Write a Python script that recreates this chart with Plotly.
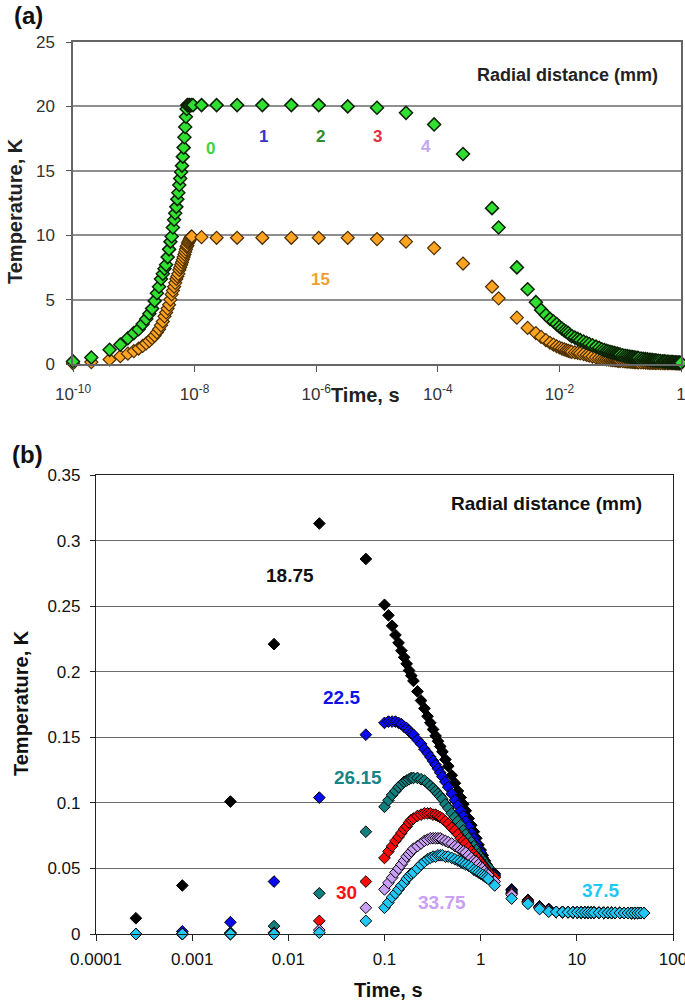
import plotly.graph_objects as go

W, H = 685, 1003

# ---------------- Panel (a) data ----------------
# rising phase (times in ns)
a_rise_t_ns = [0.1, 0.2, 0.4, 0.6, 0.8, 1.0, 1.2, 1.4, 1.6, 1.8, 2.0, 2.2, 2.4, 2.6, 2.8, 3.0,
               3.2, 3.4, 3.6, 3.8, 4.0, 4.2, 4.4, 4.6, 4.8, 5.0, 5.2, 5.4, 5.6, 5.8, 6.0, 6.2,
               6.4, 6.6, 6.8, 7.0, 7.2, 7.4, 7.6]
a_green_rise = [0.2, 0.5, 1.1, 1.5, 2.0, 2.4, 2.7, 3.1, 3.5, 3.9, 4.3, 4.9, 5.5, 6.0, 6.6, 7.0,
                7.4, 7.7, 8.3, 8.9, 9.5, 9.9, 10.6, 11.2, 11.7, 12.2, 12.8, 13.3, 13.9, 14.4, 14.9, 15.4,
                16.1, 16.8, 17.6, 18.4, 19.2, 19.8, 20.1]
a_orange_rise_t_ns = [0.1, 0.2, 0.4, 0.6, 0.8, 1.0, 1.2, 1.4, 1.6, 1.8, 2.0, 2.2, 2.4, 2.6, 2.8, 3.0,
                      3.2, 3.4, 3.6, 3.8, 4.0, 4.2, 4.4, 4.6, 4.8, 5.0, 5.2, 5.4, 5.6, 5.8, 6.0, 6.2,
                      6.4, 6.6, 6.8, 7.0, 7.2, 7.4, 7.6, 7.8, 8.0, 8.2, 8.4, 8.6, 8.8, 9.0]
a_orange_rise = [0.05, 0.15, 0.35, 0.6, 0.8, 1.0, 1.2, 1.4, 1.6, 1.8, 2.0, 2.2, 2.45, 2.7, 3.0, 3.3,
                 3.7, 4.0, 4.3, 4.6, 5.0, 5.4, 5.7, 6.0, 6.3, 6.6, 6.8, 7.0, 7.3, 7.5, 7.7, 7.9,
                 8.1, 8.3, 8.5, 8.7, 8.9, 9.1, 9.2, 9.4, 9.5, 9.6, 9.7, 9.8, 9.9, 9.9]

# plateau / early decay (times in s)
a_green_mid_t = [7.8e-9, 8.2e-9, 8.8e-9, 9.4e-9, 1.3e-8, 2.3e-8, 5e-8, 1.3e-7, 3.9e-7, 1.1e-6,
                 3.3e-6, 1e-5, 3e-5, 8.7e-5, 2.6e-4, 7.8e-4, 1e-3, 2e-3, 3e-3, 4.1e-3]
a_green_mid = [20.1, 20.1, 20.1, 20.1, 20.1, 20.1, 20.1, 20.1, 20.1, 20.1,
               20.0, 19.9, 19.5, 18.6, 16.3, 12.1, 10.6, 7.5, 5.8, 4.8]
a_orange_mid_t = [1.3e-8, 2.3e-8, 5e-8, 1.3e-7, 3.9e-7, 1.1e-6, 3.3e-6, 1e-5, 3e-5, 8.7e-5,
                  2.6e-4, 7.8e-4, 1e-3, 2e-3, 3e-3, 4.1e-3]
a_orange_mid = [9.85, 9.8, 9.8, 9.8, 9.8, 9.8, 9.8, 9.7, 9.5, 9.0,
                7.8, 6.0, 5.1, 3.6, 2.8, 2.4]

# late dense decay (times in s)
a_tail_t = [0.005, 0.006, 0.007, 0.008, 0.009, 0.010, 0.011, 0.012, 0.013, 0.014, 0.015, 0.016,
            0.018, 0.020, 0.022, 0.025, 0.028, 0.031, 0.035, 0.04, 0.045, 0.05, 0.055, 0.06,
            0.065, 0.07, 0.075, 0.08, 0.085, 0.09, 0.095,
            0.10, 0.11, 0.12, 0.13, 0.14, 0.15, 0.16, 0.17, 0.18, 0.19, 0.20, 0.22, 0.24, 0.26,
            0.28, 0.30, 0.32, 0.34, 0.36, 0.38, 0.40, 0.43, 0.46, 0.50, 0.53, 0.56, 0.60, 0.63,
            0.66, 0.70, 0.73, 0.76, 0.80, 0.83, 0.86, 0.90, 0.93, 0.96, 1.00]
a_green_tail = [4.2, 3.8, 3.5, 3.3, 3.1, 2.9, 2.75, 2.6, 2.5, 2.4, 2.25, 2.15,
                2.05, 1.95, 1.85, 1.75, 1.65, 1.55, 1.45, 1.35, 1.25, 1.15, 1.08, 1.02,
                0.97, 0.93, 0.89, 0.85, 0.82, 0.79, 0.76,
                0.73, 0.68, 0.64, 0.61, 0.58, 0.555, 0.53, 0.51, 0.49, 0.475, 0.46, 0.43, 0.40, 0.375,
                0.355, 0.335, 0.32, 0.30, 0.29, 0.275, 0.26, 0.245, 0.23, 0.21, 0.20, 0.19, 0.175, 0.17,
                0.16, 0.15, 0.145, 0.14, 0.13, 0.125, 0.12, 0.115, 0.11, 0.105, 0.10]
a_orange_tail = [2.1, 1.85, 1.65, 1.5, 1.38, 1.28, 1.2, 1.13, 1.07, 1.02, 0.98, 0.94,
                 0.9, 0.87, 0.83, 0.77, 0.7, 0.64, 0.58, 0.52, 0.46, 0.42, 0.39, 0.36,
                 0.34, 0.32, 0.305, 0.29, 0.275, 0.26, 0.25,
                 0.24, 0.22, 0.20, 0.19, 0.18, 0.17, 0.16, 0.15, 0.14, 0.135, 0.13, 0.12, 0.115, 0.11,
                 0.10, 0.095, 0.09, 0.088, 0.085, 0.083, 0.08, 0.077, 0.074, 0.07, 0.068, 0.067, 0.065, 0.063,
                 0.062, 0.06, 0.058, 0.057, 0.055, 0.054, 0.053, 0.052, 0.051, 0.051, 0.05]

a_xtickvals = [1e-10, 1e-8, 1e-6, 1e-4, 1e-2, 1]
a_xticktext = ["10<sup>-10</sup>", "10<sup>-8</sup>", "10<sup>-6</sup>", "10<sup>-4</sup>", "10<sup>-2</sup>", "1"]
a_labels = ["0", "1", "2", "3", "4", "15"]
a_label_colors = ["#3fd23f", "#3535c8", "#2e8b2e", "#e0303c", "#c4a6f0", "#f0a030"]
a_label_pos = [(210, 149), (263, 137), (320, 137), (377, 137), (426, 147), (320, 279)]

# ---------------- Panel (b) data ----------------
b_t = [0.00026, 0.00079, 0.0025, 0.0071, 0.021, 0.064,
       0.10, 0.11, 0.12, 0.13, 0.14, 0.15, 0.16, 0.17, 0.18, 0.19, 0.20, 0.22, 0.24, 0.26,
       0.28, 0.30, 0.32, 0.34, 0.36, 0.38, 0.40, 0.43, 0.46, 0.50, 0.54, 0.58, 0.62, 0.66,
       0.70, 0.75, 0.80, 0.85, 0.90, 0.95, 1.00, 1.05, 1.10, 1.15, 1.20,
       1.40, 2.1, 3.1, 4.1, 5.1,
       6.1, 7.1, 8.1, 9.1, 10.1, 11.1, 12.1, 13.1, 14.1, 15.1, 17, 19, 21, 23, 25, 28,
       31, 34, 37, 40, 43, 46, 50]

b_tail = [0.0168, 0.0167, 0.0166, 0.0165, 0.0165, 0.0164, 0.0164, 0.0163, 0.0163, 0.0163,
          0.0162, 0.0162, 0.0162, 0.0161, 0.0161, 0.0161, 0.016, 0.016, 0.016, 0.016, 0.016, 0.016, 0.016]

b_18_75 = [0.012, 0.037, 0.101, 0.221, 0.313, 0.286,
           0.251, 0.243, 0.235, 0.228, 0.222, 0.216, 0.211, 0.206, 0.201, 0.197, 0.193, 0.185, 0.178, 0.172,
           0.166, 0.161, 0.156, 0.151, 0.147, 0.143, 0.139, 0.133, 0.128, 0.121, 0.115, 0.109, 0.104, 0.099,
           0.094, 0.088, 0.083, 0.078, 0.073, 0.068, 0.064, 0.060, 0.056, 0.052, 0.049,
           0.046, 0.034, 0.026, 0.021, 0.019] + b_tail
b_22_5 = [0.0, 0.002, 0.009, 0.040, 0.104, 0.152,
          0.161, 0.162, 0.162, 0.162, 0.161, 0.160, 0.158, 0.157, 0.155, 0.153, 0.152, 0.148, 0.145, 0.141,
          0.138, 0.135, 0.132, 0.129, 0.126, 0.123, 0.120, 0.116, 0.112, 0.107, 0.102, 0.098, 0.094, 0.090,
          0.086, 0.082, 0.077, 0.073, 0.069, 0.065, 0.062, 0.058, 0.055, 0.052, 0.049,
          0.045, 0.033, 0.025, 0.021, 0.019] + b_tail
b_26_15 = [0.0, 0.0, 0.001, 0.006, 0.031, 0.078,
           0.097, 0.102, 0.106, 0.109, 0.112, 0.114, 0.116, 0.117, 0.118, 0.119, 0.119, 0.119, 0.118, 0.117,
           0.115, 0.113, 0.111, 0.109, 0.107, 0.105, 0.103, 0.099, 0.096, 0.092, 0.089, 0.086, 0.083, 0.079,
           0.076, 0.073, 0.070, 0.067, 0.064, 0.061, 0.059, 0.057, 0.055, 0.053, 0.051,
           0.044, 0.032, 0.025, 0.020, 0.018] + b_tail
b_30 = [0.0, 0.0, 0.0, 0.001, 0.010, 0.040,
        0.058, 0.063, 0.067, 0.071, 0.074, 0.077, 0.080, 0.082, 0.085, 0.087, 0.088, 0.090, 0.091, 0.092,
        0.092, 0.092, 0.091, 0.091, 0.090, 0.089, 0.088, 0.086, 0.084, 0.081, 0.079, 0.076, 0.073, 0.071,
        0.069, 0.066, 0.063, 0.061, 0.059, 0.057, 0.055, 0.053, 0.051, 0.049, 0.047,
        0.043, 0.031, 0.025, 0.020, 0.018] + b_tail
b_33_75 = [0.0, 0.0, 0.0, 0.0, 0.003, 0.020,
           0.034, 0.039, 0.043, 0.047, 0.050, 0.053, 0.056, 0.059, 0.061, 0.063, 0.065, 0.067, 0.069, 0.071,
           0.072, 0.073, 0.073, 0.073, 0.073, 0.073, 0.072, 0.071, 0.070, 0.069, 0.067, 0.066, 0.064, 0.063,
           0.062, 0.060, 0.058, 0.056, 0.055, 0.053, 0.051, 0.050, 0.048, 0.046, 0.045,
           0.040, 0.030, 0.024, 0.020, 0.018] + b_tail
b_37_5 = [0.0, 0.0, 0.0, 0.0, 0.001, 0.010,
          0.020, 0.024, 0.028, 0.031, 0.034, 0.037, 0.039, 0.042, 0.044, 0.046, 0.047, 0.050, 0.053, 0.055,
          0.057, 0.058, 0.059, 0.059, 0.060, 0.060, 0.060, 0.059, 0.059, 0.058, 0.057, 0.056, 0.055, 0.054,
          0.053, 0.052, 0.051, 0.049, 0.048, 0.047, 0.046, 0.045, 0.044, 0.043, 0.042,
          0.037, 0.027, 0.023, 0.019, 0.017] + b_tail

b_series_names = ["18.75", "22.5", "26.15", "30", "33.75", "37.5"]
b_series_values = [b_18_75, b_22_5, b_26_15, b_30, b_33_75, b_37_5]
b_fill_colors = ["#000000", "#0a0af0", "#138080", "#ff0a0a", "#c9a0f5", "#20c8f5"]
b_label_colors = ["#111111", "#1010ee", "#178585", "#ff1010", "#c9a0f5", "#20c8f5"]
b_label_pos = [(290, 575), (341, 697), (358, 777), (346, 892), (442, 902), (600, 890)]
b_xtickvals = [0.0001, 0.001, 0.01, 0.1, 1, 10, 100]
b_xticktext = ["0.0001", "0.001", "0.01", "0.1", "1", "10", "100"]
b_ytickvals = [0, 0.05, 0.1, 0.15, 0.2, 0.25, 0.3, 0.35]
b_yticktext = ["0", "0.05", "0.1", "0.15", "0.2", "0.25", "0.3", "0.35"]

FONT = "Liberation Sans, Arial, Helvetica, sans-serif"

fig = go.Figure()

green_fill, green_line = "#30e030", "#0c2206"
orange_fill, orange_line = "#ffa320", "#4a2e00"

# orange (15 mm) first, green (0 mm) on top
orange_t = [v * 1e-9 for v in a_orange_rise_t_ns] + a_orange_mid_t + a_tail_t
orange_T = a_orange_rise + a_orange_mid + a_orange_tail
green_t = [v * 1e-9 for v in a_rise_t_ns] + a_green_mid_t + a_tail_t
green_T = a_green_rise + a_green_mid + a_green_tail

fig.add_trace(go.Scatter(x=orange_t, y=orange_T, mode="markers", name="15 mm",
                         xaxis="x", yaxis="y", cliponaxis=False,
                         marker=dict(symbol="diamond", size=10, color=orange_fill,
                                     line=dict(color=orange_line, width=1.2))))
fig.add_trace(go.Scatter(x=green_t, y=green_T, mode="markers", name="0 mm",
                         xaxis="x", yaxis="y", cliponaxis=False,
                         marker=dict(symbol="diamond", size=10, color=green_fill,
                                     line=dict(color=green_line, width=1.5))))

for name, vals, col in zip(b_series_names, b_series_values, b_fill_colors):
    fig.add_trace(go.Scatter(x=b_t, y=vals, mode="markers", name=name + " mm",
                             xaxis="x2", yaxis="y2", cliponaxis=False,
                             marker=dict(symbol="diamond", size=9, color=col,
                                         line=dict(color="#000000", width=1))))

def px(x):
    return x / W

def py(y):
    return 1 - y / H

annotations = []

def ann(text, x, y, size, color="#000", angle=0, bold=True):
    annotations.append(dict(text=("<b>%s</b>" % text) if bold else text,
                            x=px(x), y=py(y), xref="paper", yref="paper",
                            xanchor="center", yanchor="middle", showarrow=False,
                            textangle=angle, font=dict(family=FONT, size=size, color=color)))

ann("(a)", 28, 16, 24, "#111")
ann("(b)", 27, 455, 24, "#111")
ann("Radial distance (mm)", 567, 75, 18, "#222")
ann("Radial distance (mm)", 546, 503, 19, "#111")
ann("Temperature, K", 15, 211, 20, "#222", angle=-90)
ann("Temperature, K", 21, 703, 20, "#111", angle=-90)
ann("Time, s", 366, 395, 20, "#222")
ann("Time, s", 388, 990, 20, "#111")
for t, c, (x, y) in zip(a_labels, a_label_colors, a_label_pos):
    ann(t, x, y, 17, c)
for t, c, (x, y) in zip(b_series_names, b_label_colors, b_label_pos):
    ann(t, x, y, 19, c)

axis_common = dict(showline=True, mirror=True, ticks="outside", zeroline=False, automargin=False)

fig.update_layout(
    width=W, height=H, margin=dict(l=0, r=0, t=0, b=0, autoexpand=False),
    paper_bgcolor="white", plot_bgcolor="white", showlegend=False,
    font=dict(family=FONT, color="#222"),
    annotations=annotations,
    xaxis=dict(type="log", range=[-10, 0], domain=[73 / W, 681 / W], anchor="y",
               tickvals=a_xtickvals, ticktext=a_xticktext, ticklen=6, tickcolor="#555",
               linecolor="#666", linewidth=1.5, showgrid=False, ticklabeloverflow="allow",
               tickfont=dict(family=FONT, size=17, color="#333"), ticklabelstandoff=8,
               **axis_common),
    yaxis=dict(range=[0, 25], domain=[py(364), py(42)], anchor="x", dtick=5, tick0=0,
               showgrid=True, gridcolor="#8f8f8f", gridwidth=1.5,
               ticklen=5, tickcolor="#555", linecolor="#666", linewidth=1.5,
               tickfont=dict(family=FONT, size=17, color="#333"), ticklabelstandoff=8,
               **axis_common),
    xaxis2=dict(type="log", range=[-4, 2], domain=[96 / W, 673 / W], anchor="y2",
                tickvals=b_xtickvals, ticktext=b_xticktext, ticklen=6, tickcolor="#222",
                linecolor="#222", linewidth=1.2, showgrid=False, ticklabeloverflow="allow",
                tickfont=dict(family=FONT, size=17, color="#111"), ticklabelstandoff=3,
                **axis_common),
    yaxis2=dict(range=[0, 0.35], domain=[py(934), py(475)], anchor="x2",
                tickvals=b_ytickvals, ticktext=b_yticktext,
                showgrid=True, gridcolor="#6a6a6a", gridwidth=1,
                ticklen=5, tickcolor="#222", linecolor="#222", linewidth=1.2,
                tickfont=dict(family=FONT, size=17, color="#111"), ticklabelstandoff=6,
                **axis_common),
)

fig.write_html("out.html", config={"displayModeBar": False},
               post_script="document.body.style.margin='0';document.body.style.padding='0';"
                           "document.body.style.overflow='hidden';")
